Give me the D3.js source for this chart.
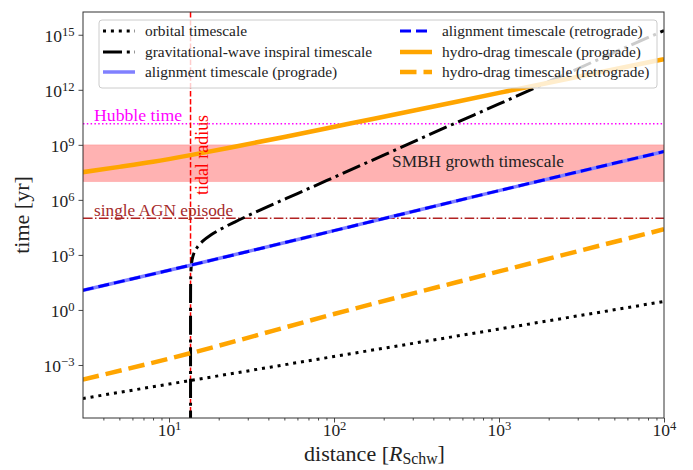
<!DOCTYPE html>
<html>
<head>
<meta charset="utf-8">
<script src="https://cdn.jsdelivr.net/npm/d3@7"></script>
<style>
  body { margin: 0; background: #fff; }
  svg { display: block; }
  text { font-family: "Liberation Serif", "DejaVu Serif", serif; }
</style>
</head>
<body>
<svg id="chart" width="693" height="470"></svg>
<script>
// Distance in Schwarzschild radii, time in years.
const orbitalR = [3, 10, 100, 1000, 10000];
const orbitalT = [1.5e-5, 9.1e-5, 2.9e-3, 9.1e-2, 2.9];

const gwR = [13.5, 13.501, 13.51, 13.55, 13.7, 14, 14.5, 15, 16, 18, 20, 25, 30, 40, 60, 100, 200, 500, 1000, 2000, 5000, 10000];
const gwT = [3e-7, 1.7, 17, 85, 350, 910, 1900, 3000, 5600, 1.26e4, 2.2e4, 6.2e4, 1.35e5, 4.4e5, 2.2e6, 1.7e7, 2.75e8, 1.1e10, 1.7e11, 2.75e12, 1.1e14, 1.7e15];

const alignR = [3, 13.5, 100, 1000, 10000];
const alignProT = [11.7, 275, 2.1e4, 3.2e6, 4.3e8];
const alignRetT = [11.7, 275, 2.1e4, 3.2e6, 4.3e8];

const dragProR = [3, 5, 8, 13.5, 25, 50, 125, 316, 1000, 3162, 10000];
const dragProT = [3.24e7, 6.3e7, 1.2e8, 2.75e8, 7.9e8, 2.7e9, 1.45e10, 7.9e10, 6.8e11, 5.6e12, 4.7e13];

const dragRetR = [3, 13.5, 100, 1000, 10000];
const dragRetT = [1.6e-4, 4.4e-3, 0.6, 126, 2.5e4];

const tidalRadius = 13.5;
const hubbleTime = 1.4e10;
const agnEpisode = 1e5;
const smbhGrowth = [1e7, 1e9];

const xTicks = [10, 100, 1000, 10000];
const yTicks = [1e-3, 1, 1e3, 1e6, 1e9, 1e12, 1e15];

const legendLabels = [
  "orbital timescale",
  "gravitational-wave inspiral timescale",
  "alignment timescale (prograde)",
  "alignment timescale (retrograde)",
  "hydro-drag timescale (prograde)",
  "hydro-drag timescale (retrograde)"
];

const SERIF = "Liberation Serif, DejaVu Serif, serif";
const svg = d3.select("#chart");
const pL = 83, pR = 664, pT = 12, pB = 418;

const x = d3.scaleLog().domain([3.01, 1e4]).range([pL, pR]);
const y = d3.scaleLog().domain([1.29e-6, 1.74e16]).range([pB, pT]);

// Scale a text's font size so that it spans the given width.
const fitWidth = (sel, width) => {
  const w = sel.node().getComputedTextLength();
  const fs = parseFloat(sel.attr("font-size"));
  if (w > 0) sel.attr("font-size", (fs * width / w).toFixed(2));
  return sel;
};

svg.append("defs").append("clipPath").attr("id", "plot-clip")
  .append("rect").attr("x", pL).attr("y", pT)
  .attr("width", pR - pL).attr("height", pB - pT);

const plot = svg.append("g").attr("clip-path", "url(#plot-clip)");

// SMBH growth band
plot.append("rect")
  .attr("x", pL).attr("width", pR - pL)
  .attr("y", y(smbhGrowth[1])).attr("height", y(smbhGrowth[0]) - y(smbhGrowth[1]))
  .attr("fill", "rgb(255,0,0)").attr("fill-opacity", 0.3)
  .attr("stroke", "rgb(255,0,0)").attr("stroke-opacity", 0.15);

// Hubble time
plot.append("line")
  .attr("x1", pL).attr("x2", pR)
  .attr("y1", y(hubbleTime)).attr("y2", y(hubbleTime))
  .attr("stroke", "#ff00ff").attr("stroke-width", 1.5)
  .attr("stroke-dasharray", "1.5 2.3");

// Single AGN episode
plot.append("line")
  .attr("x1", pL).attr("x2", pR)
  .attr("y1", y(agnEpisode)).attr("y2", y(agnEpisode))
  .attr("stroke", "#b22222").attr("stroke-width", 1.5)
  .attr("stroke-dasharray", "9.6 2.4 1.5 2.4");

// Tidal radius
plot.append("line")
  .attr("x1", x(tidalRadius)).attr("x2", x(tidalRadius))
  .attr("y1", pT).attr("y2", pB)
  .attr("stroke", "red").attr("stroke-width", 1.5)
  .attr("stroke-dasharray", "5.5 2.4");

const line = d3.line().x(d => x(d[0])).y(d => y(d[1])).curve(d3.curveMonotoneX);
const zip = (a, b) => a.map((v, i) => [v, b[i]]);

const series = [
  { r: orbitalR, t: orbitalT, color: "#000", width: 3, dash: "3 4.9" },
  { r: gwR, t: gwT, color: "#000", width: 3, dash: "19 4.8 3 4.8" },
  { r: alignR, t: alignProT, color: "#8080ff", width: 3.5, dash: null },
  { r: alignR, t: alignRetT, color: "#0000ff", width: 3, dash: "11 5" },
  { r: dragProR, t: dragProT, color: "#ffa500", width: 4.5, dash: null },
  { r: dragRetR, t: dragRetT, color: "#ffa500", width: 4.5, dash: "16.5 7" }
];

series.forEach(s => {
  plot.append("path")
    .datum(zip(s.r, s.t))
    .attr("d", line)
    .attr("fill", "none")
    .attr("stroke", s.color)
    .attr("stroke-width", s.width)
    .attr("stroke-dasharray", s.dash);
});

// Annotations
const note = (xp, yp, size, color, str) =>
  svg.append("text").attr("x", xp).attr("y", yp).attr("font-family", SERIF)
    .attr("font-size", size).attr("fill", color).text(str);
fitWidth(note(94, 121, 17.3, "#ff00ff", "Hubble time"), 88);
fitWidth(note(94, 216, 17.3, "#a52a2a", "single AGN episode"), 139);
fitWidth(note(478, 167, 17.5, "#222", "SMBH growth timescale").attr("text-anchor", "middle"), 172);
fitWidth(svg.append("text")
  .attr("transform", `translate(${x(tidalRadius) + 17},195) rotate(-90)`)
  .attr("font-family", SERIF)
  .attr("font-size", 17.3).attr("fill", "red").text("tidal radius"), 80);

// Legend
const lg = svg.append("g");
lg.append("rect").attr("x", 99).attr("y", 20).attr("width", 558).attr("height", 68)
  .attr("rx", 3).attr("fill", "#fff").attr("fill-opacity", 0.8)
  .attr("stroke", "#ccc").attr("stroke-width", 1);
const rowsY = [31, 52, 72];
const legendTexts = [];
series.forEach((s, i) => {
  const col = Math.floor(i / 3), row = i % 3;
  const hx = col === 0 ? 103 : 400;
  const tx = col === 0 ? 145 : 442;
  const cy = rowsY[row];
  lg.append("line").attr("x1", hx).attr("x2", hx + 32)
    .attr("y1", cy).attr("y2", cy)
    .attr("stroke", s.color).attr("stroke-width", s.width)
    .attr("stroke-dasharray", s.dash);
  legendTexts.push(lg.append("text").attr("x", tx).attr("y", cy + 4.8)
    .attr("font-family", SERIF)
    .attr("font-size", 15).attr("fill", "#222").text(legendLabels[i]));
});
// One shared legend font size, sized from the two widest entries.
const wGW = legendTexts[1].node().getComputedTextLength();
const wRet = legendTexts[5].node().getComputedTextLength();
const legendSize = 15 * 0.5 * (227 / wGW + 208 / wRet);
legendTexts.forEach(t => t.attr("font-size", legendSize.toFixed(2)));

// Axes
const expOf = v => Math.round(Math.log10(v));
const supLabel = (sel, v) => {
  const e = expOf(v);
  sel.text(null);
  sel.append("tspan").text("10");
  sel.append("tspan").attr("dy", "-0.5em").attr("font-size", "0.72em")
    .text(e < 0 ? "\u2212" + Math.abs(e) : String(e));
};

const xMinor = [];
[1, 10, 100, 1000].forEach(d => { for (let k = 2; k <= 9; k++) { const v = k * d; if (v >= 3.01 && v < 1e4) xMinor.push(v); } });

const xAxisMinor = svg.append("g").attr("transform", `translate(0,${pB})`)
  .call(d3.axisBottom(x).tickValues(xMinor).tickSize(2.5).tickFormat(""));
const xAxis = svg.append("g").attr("transform", `translate(0,${pB})`)
  .call(d3.axisBottom(x).tickValues(xTicks).tickSize(4.5).tickPadding(2));
xAxis.selectAll(".tick text").each(function(v) { supLabel(d3.select(this), v); })
  .attr("font-size", 17.5).attr("fill", "#222")
  .attr("font-family", SERIF).attr("dy", "0.66em");
const yAxis = svg.append("g").attr("transform", `translate(${pL},0)`)
  .call(d3.axisLeft(y).tickValues(yTicks).tickSize(4.5).tickPadding(4));
yAxis.selectAll(".tick text").each(function(v) { supLabel(d3.select(this), v); })
  .attr("font-size", 17.5).attr("fill", "#222")
  .attr("font-family", SERIF).attr("dy", "0.4em");

[xAxis, xAxisMinor, yAxis].forEach(a => {
  a.select(".domain").remove();
  a.selectAll(".tick line").attr("stroke", "#333").attr("stroke-width", 0.9);
});

// Frame
svg.append("rect").attr("x", pL).attr("y", pT)
  .attr("width", pR - pL).attr("height", pB - pT)
  .attr("fill", "none").attr("stroke", "#333").attr("stroke-width", 1);

// Axis titles
const xl = svg.append("text").attr("x", (pL + pR) / 2 + 1).attr("y", 461)
  .attr("text-anchor", "middle").attr("font-family", SERIF)
  .attr("font-size", 22).attr("fill", "#222");
xl.append("tspan").text("distance [");
xl.append("tspan").attr("font-style", "italic").text("R");
xl.append("tspan").attr("dy", "0.22em").attr("font-size", "0.72em").text("Schw");
xl.append("tspan").attr("dy", "-0.22em").text("]");

svg.append("text")
  .attr("transform", `translate(29,${(pT + pB) / 2}) rotate(-90)`)
  .attr("text-anchor", "middle").attr("font-family", SERIF)
  .attr("font-size", 22).attr("fill", "#222")
  .text("time [yr]");
</script>
</body>
</html>
